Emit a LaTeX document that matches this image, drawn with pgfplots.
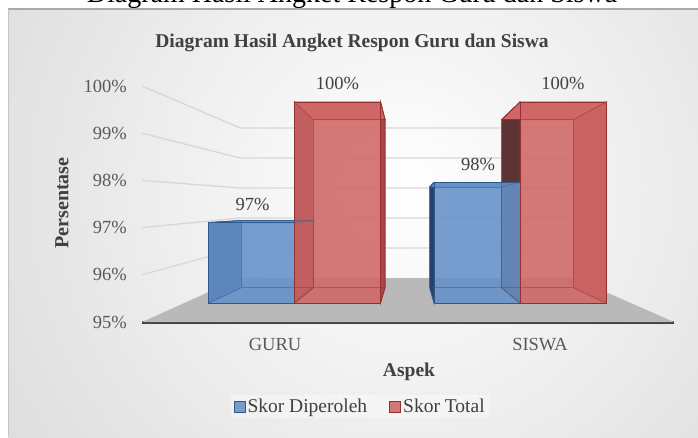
\documentclass[border=0pt]{standalone}
\usepackage{pgfplots}
\pgfplotsset{compat=1.18}
\usepackage{fontspec}
\setmainfont{Liberation Serif}
\definecolor{bgedge}{RGB}{195,195,195}
\definecolor{bgline}{RGB}{170,170,170}
\definecolor{tickc}{RGB}{89,89,89}
\definecolor{labc}{RGB}{64,64,64}
\definecolor{axisc}{RGB}{64,64,64}
\definecolor{gridc}{RGB}{215,215,215}
\definecolor{floorc}{RGB}{185,185,185}
\definecolor{cblue}{RGB}{101,145,200}
\definecolor{eblue}{RGB}{47,88,140}
\definecolor{sblueL}{RGB}{38,64,105}
\definecolor{sblueR}{RGB}{70,110,165}
\definecolor{cred}{RGB}{208,102,102}
\definecolor{ered}{RGB}{150,48,48}
\definecolor{sredL}{RGB}{92,52,52}
\definecolor{sredR}{RGB}{170,70,70}
% 3D box parts around a front face: #1 centre x, #2 value, #3 left fill, #4 right fill, #5 top fill, #6 edge
\newcommand{\boxsides}[6]{%
  \pgfmathsetmacro\xa{#1-0.1907}%
  \pgfmathsetmacro\xb{#1+0.1907}%
  \pgfmathsetmacro\xab{0.5033+0.837*(\xa-0.5033)}%
  \pgfmathsetmacro\xbb{0.5033+0.837*(\xb-0.5033)}%
  \pgfmathsetmacro\ylb{97.313+0.837*(95-97.313)}%
  \pgfmathsetmacro\yhb{97.313+0.837*(#2-97.313)}%
  \addplot[forget plot, fill=#3, draw=#6, line width=0.8pt] coordinates {(\xa,95) (\xab,\ylb) (\xab,\yhb) (\xa,#2)} -- cycle;
  \addplot[forget plot, fill=#4, draw=#6, line width=0.8pt] coordinates {(\xb,95) (\xbb,\ylb) (\xbb,\yhb) (\xb,#2)} -- cycle;
  \addplot[forget plot, fill=#5, draw=#6, line width=0.8pt] coordinates {(\xa,#2) (\xb,#2) (\xbb,\yhb) (\xab,\yhb)} -- cycle;
}
\newcommand{\boxedges}[3]{%
  \pgfmathsetmacro\xa{#1-0.1907}%
  \pgfmathsetmacro\xb{#1+0.1907}%
  \pgfmathsetmacro\xab{0.5033+0.837*(\xa-0.5033)}%
  \pgfmathsetmacro\xbb{0.5033+0.837*(\xb-0.5033)}%
  \pgfmathsetmacro\ylb{97.313+0.837*(95-97.313)}%
  \pgfmathsetmacro\yhb{97.313+0.837*(#2-97.313)}%
  \addplot[forget plot, draw=#3, opacity=0.45, line width=0.8pt] coordinates {(\xab,\ylb) (\xbb,\ylb) (\xbb,\yhb) (\xab,\yhb)} -- cycle;
  \addplot[forget plot, draw=#3, opacity=0.45, line width=0.8pt] coordinates {(\xa,95) (\xab,\ylb)};
  \addplot[forget plot, draw=#3, opacity=0.45, line width=0.8pt] coordinates {(\xb,95) (\xbb,\ylb)};
  \addplot[forget plot, draw=#3, opacity=0.45, line width=0.8pt] coordinates {(\xa,#2) (\xab,\yhb)};
  \addplot[forget plot, draw=#3, opacity=0.45, line width=0.8pt] coordinates {(\xb,#2) (\xbb,\yhb)};
}
\begin{document}
\begin{tikzpicture}[x=1pt,y=1pt]
\clip (0,0) rectangle (698,437);
% caption line cut at the top
\node[anchor=base, inner sep=0pt, font=\fontsize{28}{32}\selectfont] at (352,434.5) {Diagram Hasil Angket Respon Guru dan Siswa};
% chart area background
\begin{scope}
\clip (8,0) rectangle (700,428);
\shade[inner color=white, outer color=bgedge] (400,247) circle (840);
\end{scope}
\draw[bgline, line width=1.2pt] (8,428) -- (700,428);
\draw[bgline!70, line width=0.6pt] (8,0) -- (8,428);

% front plane axis: ticks, floor, gridlines
\begin{axis}[at={(142pt,115pt)}, anchor=south west, scale only axis,
  width=532pt, height=236pt,
  xmin=-0.50189, xmax=1.50566, ymin=95, ymax=100, clip=false,
  axis x line*=bottom, axis y line*=left,
  y axis line style={draw=none},
  x axis line style={line width=3pt, draw=axisc},
  major tick length=0pt, tick style={draw=none},
  xtick={0,1}, xticklabels={GURU,SISWA},
  ytick={95,96,97,98,99,100},
  yticklabels={95\%,96\%,97\%,98\%,99\%,100\%},
  ticklabel style={font=\fontsize{18.5}{20}\selectfont, text=tickc},
  yticklabel style={anchor=east, inner sep=0pt, xshift=-15pt},
  xticklabel style={anchor=north, inner sep=0pt, yshift=-16pt},
]
\addplot[forget plot, fill=floorc, draw=none] coordinates {(-0.50189,95) (1.50566,95) (1.12830,95.932) (-0.13208,95.932)} -- cycle;
\addplot[forget plot, gridc, line width=1.3pt] coordinates {(-0.50189,96) (-0.13208,96.568) (1.12830,96.568)};
\addplot[forget plot, gridc, line width=1.3pt] coordinates {(-0.50189,97) (-0.13208,97.204) (1.12830,97.204)};
\addplot[forget plot, gridc, line width=1.3pt] coordinates {(-0.50189,98) (-0.13208,97.840) (1.12830,97.840)};
\addplot[forget plot, gridc, line width=1.3pt] coordinates {(-0.50189,99) (-0.13208,98.476) (1.12830,98.476)};
\addplot[forget plot, gridc, line width=1.3pt] coordinates {(-0.50189,100) (-0.13208,99.112) (1.12830,99.112)};
\end{axis}

% bar axis
\begin{axis}[at={(142pt,134pt)}, anchor=south west, scale only axis,
  width=532pt, height=201pt,
  xmin=-0.6763, xmax=1.6829, ymin=95, ymax=100, clip=false, hide axis,
  /pgf/number format/assume math mode=true,
  legend columns=2,
  legend style={at={(0.41,-0.517)}, anchor=center, draw=none,
    fill=white, fill opacity=0.35, text opacity=1,
    font=\fontsize{19.5}{21}\selectfont, text=labc,
    /tikz/every even column/.append style={column sep=20pt},
    nodes={inner xsep=2pt}},
]
\boxsides{-0.1907}{97}{sblueL}{sblueR}{cblue}{eblue}
\boxsides{0.8093}{98}{sblueL}{sblueR}{cblue}{eblue}
\boxsides{0.1907}{100}{sredL}{sredR}{cred}{ered}
\boxsides{1.1907}{100}{sredL}{sredR}{cred}{ered}

\addplot[ybar, bar width=0.3814, bar shift=-0.1907, fill=cblue, fill opacity=0.88, draw=eblue, line width=1pt,
  nodes near coords={\pgfmathprintnumber{\pgfplotspointmeta}\%},
  every node near coord/.append style={font=\fontsize{18.5}{20}\selectfont, text=labc, text opacity=1, yshift=8pt, xshift=-42pt},
  legend image code/.code={\draw[fill=cblue, draw=eblue, line width=1pt] (0pt,-5.5pt) rectangle (11pt,5.5pt);}]
  coordinates {(0,97) (1,98)};
\addlegendentry{Skor Diperoleh}
\addplot[ybar, bar width=0.3814, bar shift=0.1907, fill=cred, fill opacity=0.88, draw=ered, line width=1pt,
  nodes near coords={\pgfmathprintnumber{\pgfplotspointmeta}\%},
  every node near coord/.append style={font=\fontsize{18.5}{20}\selectfont, text=labc, text opacity=1, yshift=8pt, xshift=43pt},
  legend image code/.code={\draw[fill=cred, draw=ered, line width=1pt] (0pt,-5.5pt) rectangle (11pt,5.5pt);}]
  coordinates {(0,100) (1,100)};
\addlegendentry{Skor Total}

\boxedges{-0.1907}{97}{eblue}
\boxedges{0.8093}{98}{eblue}
\boxedges{0.1907}{100}{ered}
\boxedges{1.1907}{100}{ered}
\end{axis}

\node[font=\bfseries\fontsize{19.5}{22}\selectfont, text=labc] at (352,394) {Diagram Hasil Angket Respon Guru dan Siswa};
\node[font=\bfseries\fontsize{19.5}{22}\selectfont, text=labc] at (409,65) {Aspek};
\node[font=\bfseries\fontsize{20}{22}\selectfont, text=labc, rotate=90] at (62,234) {Persentase};
\end{tikzpicture}
\end{document}
